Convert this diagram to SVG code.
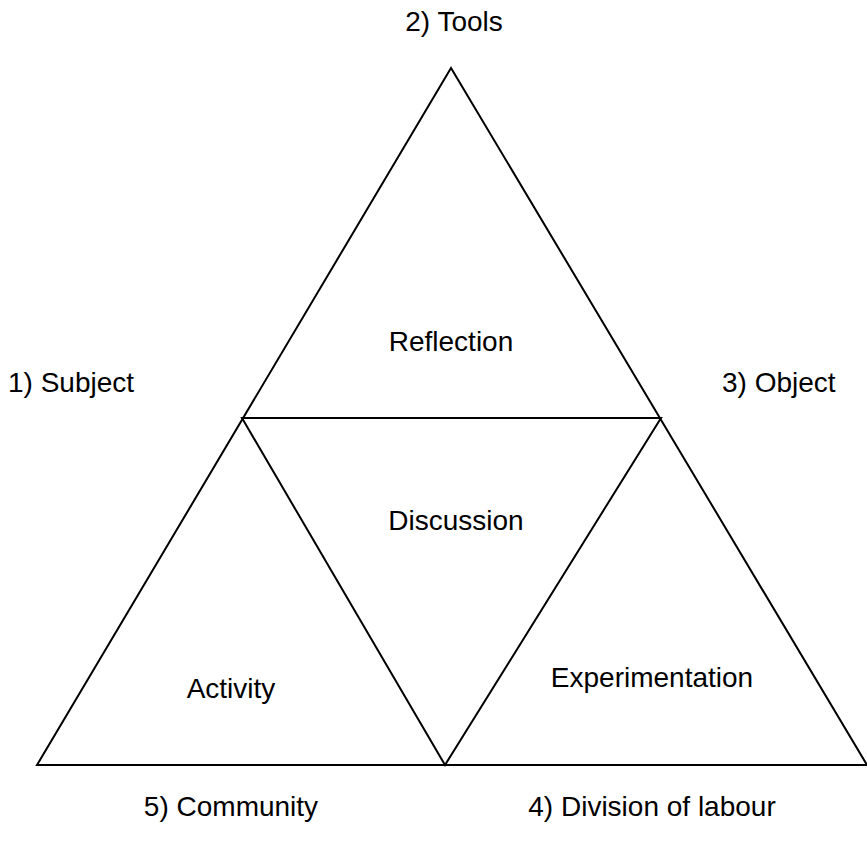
<svg xmlns="http://www.w3.org/2000/svg" width="867" height="847" viewBox="0 0 867 847">
<style>
.t{font-family:"Liberation Sans",Arial,sans-serif;font-size:28px;fill:#000}
.m{text-anchor:middle}
.l{fill:none;stroke:#000;stroke-width:2}
</style>
<rect width="867" height="847" fill="#fff"/>
<g id="connectors">
<polygon class="l" points="451,68 37,765 867,765"/>
<polygon class="l" points="242,418 661,418 445,765"/>
</g>
<g id="tools"><text class="t m" x="454" y="31">2) Tools</text></g>
<g id="subject"><text class="t" x="8" y="392">1) Subject</text></g>
<g id="object"><text class="t" x="722" y="392">3) Object</text></g>
<g id="reflection"><text class="t m" x="451" y="351">Reflection</text></g>
<g id="discussion"><text class="t m" x="456" y="530">Discussion</text></g>
<g id="activity"><text class="t m" x="231" y="698">Activity</text></g>
<g id="experimentation"><text class="t m" x="652" y="687">Experimentation</text></g>
<g id="community"><text class="t m" x="231" y="816">5) Community</text></g>
<g id="division"><text class="t m" x="652" y="816">4) Division of labour</text></g>
</svg>
